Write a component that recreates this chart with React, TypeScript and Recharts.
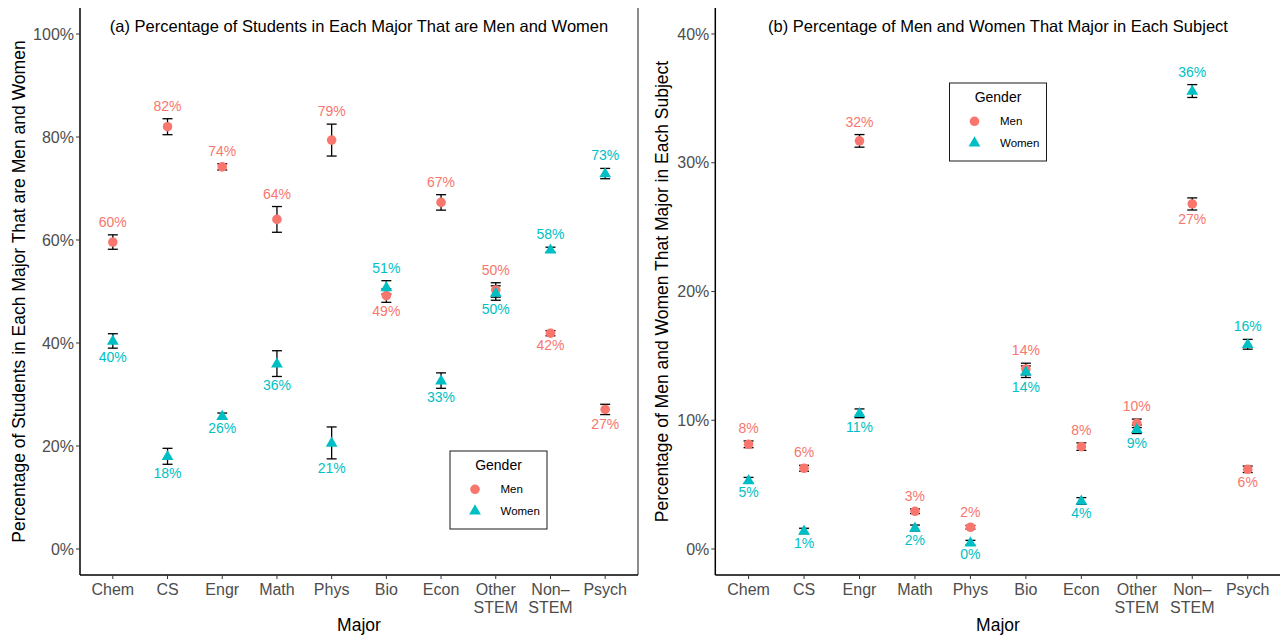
import React from 'react';
import { ScatterChart, Scatter, XAxis, YAxis, ErrorBar } from 'recharts';

const FONT = '"Liberation Sans", Arial, Helvetica, sans-serif';
const MEN_COLOR = '#F8766D';
const WOMEN_COLOR = '#00BFC4';

const majors = ['Chem', 'CS', 'Engr', 'Math', 'Phys', 'Bio', 'Econ', 'Other STEM', 'Non–STEM', 'Psych'];
const majorTickLines = [['Chem'], ['CS'], ['Engr'], ['Math'], ['Phys'], ['Bio'], ['Econ'], ['Other', 'STEM'], ['Non–', 'STEM'], ['Psych']];

// Panel (a): share of students in each major that are men / women (%)
const menShareA = [59.6, 82.0, 74.2, 64.0, 79.4, 49.2, 67.3, 50.3, 41.9, 27.1];
const womenShareA = [40.4, 18.0, 25.8, 36.0, 20.6, 50.8, 32.7, 49.7, 58.1, 72.9];
const shareErrA = [1.4, 1.55, 0.6, 2.5, 3.1, 1.3, 1.5, 1.4, 0.5, 1.0];

// Panel (b): share of men / women that major in each subject (%)
const menMajorB = [8.13, 6.27, 31.7, 2.93, 1.69, 13.98, 7.95, 9.76, 26.8, 6.19];
const menErrB = [0.26, 0.23, 0.49, 0.18, 0.14, 0.45, 0.29, 0.33, 0.47, 0.25];
const womenMajorB = [5.33, 1.4, 10.54, 1.63, 0.49, 13.77, 3.73, 9.3, 35.57, 15.9];
const womenErrB = [0.23, 0.21, 0.34, 0.23, 0.18, 0.45, 0.26, 0.33, 0.5, 0.38];

const ticksA = [0, 20, 40, 60, 80, 100];
const ticksB = [0, 10, 20, 30, 40];
const xTicks = majors.map((_, i) => i + 1);

function buildSeries(men: number[], menErr: number[], women: number[], womenErr: number[]) {
  const menPts = men.map((v, i) => ({ x: i + 1, y: v, err: menErr[i], major: majors[i] }));
  const womenPts = women.map((v, i) => ({ x: i + 1, y: v, err: womenErr[i], major: majors[i] }));
  const menLabels = men.map((v, i) => {
    const above = v > women[i];
    return { x: i + 1, y: above ? v + menErr[i] : v - menErr[i], text: `${Math.round(v)}%`, above, color: MEN_COLOR };
  });
  const womenLabels = women.map((v, i) => {
    const above = v > men[i];
    return { x: i + 1, y: above ? v + womenErr[i] : v - womenErr[i], text: `${Math.round(v)}%`, above, color: WOMEN_COLOR };
  });
  return { menPts, womenPts, menLabels, womenLabels };
}

const circleShape = (p: any) => <circle cx={p.cx} cy={p.cy} r={4.8} fill={MEN_COLOR} />;
const triangleShape = (p: any) => (
  <polygon
    points={`${p.cx},${p.cy - 6.4} ${p.cx - 5.9},${p.cy + 3.8} ${p.cx + 5.9},${p.cy + 3.8}`}
    fill={WOMEN_COLOR}
  />
);
const emptyShape = () => <g />;
const labelShape = (p: any) => (
  <text
    x={p.cx}
    y={p.cy + (p.payload.above ? -8 : 14)}
    textAnchor="middle"
    fontSize={14}
    fontFamily={FONT}
    fill={p.payload.color}
  >
    {p.payload.text}
  </text>
);

const XTick = (props: any) => {
  const { x, y, payload } = props;
  const lines = majorTickLines[payload.value - 1] || [];
  return (
    <text x={x} y={y} textAnchor="middle" fontSize={16} fontFamily={FONT} fill="#4D4D4D">
      {lines.map((l: string, i: number) => (
        <tspan key={i} x={x} y={y + 14 + i * 17.5}>
          {l}
        </tspan>
      ))}
    </text>
  );
};

type PanelProps = {
  width: number;
  yWidth: number;
  rightWidth: number;
  domain: [number, number];
  ticks: number[];
  series: ReturnType<typeof buildSeries>;
};

function Panel({ width, yWidth, rightWidth, domain, ticks, series }: PanelProps) {
  const xDomain: [number, number] = [0.4, 10.6];
  return (
    <ScatterChart width={width} height={637} margin={{ top: 8, right: 0, bottom: 0, left: 0 }}>
      <XAxis
        xAxisId="b"
        type="number"
        dataKey="x"
        domain={xDomain}
        ticks={xTicks}
        interval={0}
        allowDataOverflow
        height={62}
        tickSize={4}
        tickMargin={2}
        tick={<XTick />}
        tickLine={{ stroke: '#333333', strokeWidth: 1 }}
        axisLine={{ stroke: '#000000', strokeWidth: 1.5 }}
      />
      <XAxis
        xAxisId="t"
        orientation="top"
        type="number"
        dataKey="x"
        domain={xDomain}
        allowDataOverflow
        height={0}
        tick={false}
        tickLine={false}
        axisLine={{ stroke: '#1a1a1a', strokeWidth: 1 }}
      />
      <YAxis
        yAxisId="l"
        type="number"
        dataKey="y"
        domain={domain}
        ticks={ticks}
        interval={0}
        allowDataOverflow
        width={yWidth}
        tickSize={4}
        tickMargin={2}
        tickFormatter={(v: number) => `${v}%`}
        tick={{ fill: '#4D4D4D', fontSize: 16, fontFamily: FONT }}
        tickLine={{ stroke: '#333333', strokeWidth: 1 }}
        axisLine={{ stroke: '#000000', strokeWidth: 1.5 }}
      />
      <YAxis
        yAxisId="r"
        orientation="right"
        type="number"
        dataKey="y"
        domain={domain}
        ticks={ticks}
        interval={0}
        allowDataOverflow
        width={rightWidth}
        tickSize={4}
        tick={false}
        tickLine={{ stroke: '#333333', strokeWidth: 1 }}
        axisLine={{ stroke: '#1a1a1a', strokeWidth: 1 }}
      />
      <Scatter xAxisId="b" yAxisId="l" data={series.menPts} shape={circleShape} isAnimationActive={false} />
      <Scatter xAxisId="b" yAxisId="l" data={series.womenPts} shape={triangleShape} isAnimationActive={false} />
      <Scatter xAxisId="b" yAxisId="l" data={series.menPts} shape={emptyShape} isAnimationActive={false}>
        <ErrorBar dataKey="err" direction="y" width={5} stroke="#000" strokeWidth={1.3} isAnimationActive={false} />
      </Scatter>
      <Scatter xAxisId="b" yAxisId="l" data={series.womenPts} shape={emptyShape} isAnimationActive={false}>
        <ErrorBar dataKey="err" direction="y" width={5} stroke="#000" strokeWidth={1.3} isAnimationActive={false} />
      </Scatter>
      <Scatter xAxisId="b" yAxisId="l" data={series.menLabels} shape={labelShape} isAnimationActive={false} />
      <Scatter xAxisId="b" yAxisId="l" data={series.womenLabels} shape={labelShape} isAnimationActive={false} />
    </ScatterChart>
  );
}

function LegendBox({ left, top }: { left: number; top: number }) {
  return (
    <g transform={`translate(${left},${top})`}>
      <rect x={0} y={0} width={97} height={78} fill="#fff" stroke="#1a1a1a" strokeWidth={1} />
      <text x={48.5} y={19.3} textAnchor="middle" fontSize={14} fontFamily={FONT} fill="#000">
        Gender
      </text>
      <circle cx={25} cy={38.3} r={4.8} fill={MEN_COLOR} />
      <text x={50.5} y={42.3} fontSize={11.5} fontFamily={FONT} fill="#000">
        Men
      </text>
      <polygon points={`25,${59.7 - 6.4} ${25 - 5.9},${59.7 + 3.8} ${25 + 5.9},${59.7 + 3.8}`} fill={WOMEN_COLOR} />
      <text x={50.5} y={63.7} fontSize={11.5} fontFamily={FONT} fill="#000">
        Women
      </text>
    </g>
  );
}

export default function App() {
  const seriesA = buildSeries(menShareA, shareErrA, womenShareA, shareErrA);
  const seriesB = buildSeries(menMajorB, menErrB, womenMajorB, womenErrB);
  return (
    <div
      style={{
        position: 'absolute',
        left: 0,
        top: 0,
        width: 1280,
        height: 637,
        overflow: 'hidden',
        background: '#fff',
        fontFamily: FONT,
      }}
    >
      <div style={{ position: 'absolute', left: 0, top: 0 }}>
        <Panel width={646} yWidth={80} rightWidth={8} domain={[-5.05, 105.05]} ticks={ticksA} series={seriesA} />
      </div>
      <div style={{ position: 'absolute', left: 640, top: 0 }}>
        <Panel width={646} yWidth={75.3} rightWidth={5} domain={[-2.02, 42.02]} ticks={ticksB} series={seriesB} />
      </div>
      <svg
        width={1280}
        height={637}
        style={{ position: 'absolute', left: 0, top: 0, pointerEvents: 'none' }}
      >
        <text x={359} y={31.5} textAnchor="middle" fontSize={16.5} fontFamily={FONT} fill="#000">
          (a) Percentage of Students in Each Major That are Men and Women
        </text>
        <text x={998} y={31.5} textAnchor="middle" fontSize={16.5} fontFamily={FONT} fill="#000">
          (b) Percentage of Men and Women That Major in Each Subject
        </text>
        <text x={359} y={631} textAnchor="middle" fontSize={17.5} fontFamily={FONT} fill="#000">
          Major
        </text>
        <text x={998} y={631} textAnchor="middle" fontSize={17.5} fontFamily={FONT} fill="#000">
          Major
        </text>
        <text
          x={25}
          y={291.5}
          transform="rotate(-90 25 291.5)"
          textAnchor="middle"
          fontSize={17.5}
          fontFamily={FONT}
          fill="#000"
        >
          Percentage of Students in Each Major That are Men and Women
        </text>
        <text
          x={668}
          y={291.5}
          transform="rotate(-90 668 291.5)"
          textAnchor="middle"
          fontSize={17.5}
          fontFamily={FONT}
          fill="#000"
        >
          Percentage of Men and Women That Major in Each Subject
        </text>
        <LegendBox left={450} top={451} />
        <LegendBox left={949.5} top={83} />
      </svg>
    </div>
  );
}
